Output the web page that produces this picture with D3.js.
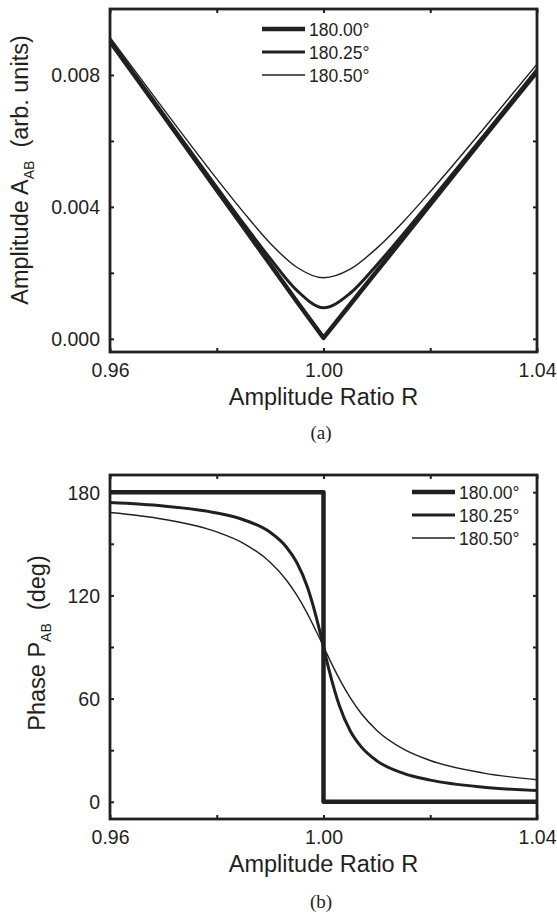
<!DOCTYPE html>
<html>
<head>
<meta charset="utf-8">
<script src="https://cdn.jsdelivr.net/npm/d3@7"></script>
<style>
  body { margin: 0; background: #fff; }
  svg text { font-family: "Liberation Sans", Arial, sans-serif; fill: #231f20; }
</style>
</head>
<body>
<div id="chart"></div>
<script>
// Data
const seriesNames = ["180.00\u00b0", "180.25\u00b0", "180.50\u00b0"];

const ampR = [0.96, 0.97, 0.98, 0.985, 0.99, 0.995, 1.00, 1.005, 1.01, 1.015, 1.02, 1.03, 1.04];
const amp18000 = [0.00902, 0.00677, 0.00451, 0.00339, 0.00226, 0.00113, 0.00003, 0.00104, 0.00205, 0.00306, 0.00408, 0.0061, 0.0081];
const amp18025 = [0.00905, 0.00682, 0.0046, 0.0035, 0.00244, 0.00147, 0.00094, 0.00138, 0.00224, 0.00319, 0.00417, 0.00616, 0.00817];
const amp18050 = [0.00914, 0.00697, 0.00485, 0.00384, 0.0029, 0.00217, 0.00185, 0.00211, 0.00275, 0.00356, 0.00446, 0.00637, 0.00833];

const phaseStepR = [0.96, 1.00, 1.00, 1.04];
const phase18000 = [180, 180, 0, 0];
const phaseR = [0.96, 0.97, 0.98, 0.985, 0.99, 0.993, 0.995, 0.997, 0.999, 1.00, 1.001, 1.003, 1.005, 1.007, 1.01, 1.015, 1.02, 1.03, 1.04];
const phase18025 = [174.0, 172.0, 167.9, 164.0, 156.7, 148.3, 139.1, 124.7, 103.0, 90.1, 77.2, 55.7, 41.3, 32.2, 23.8, 16.5, 12.6, 8.5, 6.5];
const phase18050 = [168.2, 164.3, 156.9, 150.3, 139.3, 129.1, 120.1, 109.3, 96.8, 90.3, 83.7, 71.3, 60.5, 51.6, 41.5, 30.6, 24.0, 16.7, 12.8];

const xTicks = [0.96, 0.98, 1.00, 1.02, 1.04];
const xTickLabels = ["0.96", "", "1.00", "", "1.04"];
const ampTicks = [0, 0.002, 0.004, 0.006, 0.008];
const ampTickLabels = ["0.000", "", "0.004", "", "0.008"];
const phaseTicks = [0, 30, 60, 90, 120, 150, 180];
const phaseTickLabels = ["0", "", "60", "", "120", "", "180"];

const width = 557, height = 915;
const lineWidths = [4.5, 3, 1.4];
const ink = "#231f20";

const svg = d3.select("#chart").append("svg")
    .attr("width", width)
    .attr("height", height);

const zip = (xs, ys) => xs.map((x, i) => [x, ys[i]]);

function panel(cfg) {
    const x = d3.scaleLinear().domain([0.96, 1.04]).range([110, 537]);
    const y = d3.scaleLinear().domain(cfg.yDomain).range([cfg.bottom, cfg.top]);
    const g = svg.append("g");

    g.append("clipPath").attr("id", cfg.id)
        .append("rect")
        .attr("x", 110).attr("y", cfg.top)
        .attr("width", 427).attr("height", cfg.bottom - cfg.top);

    // curves
    const lines = g.append("g").attr("clip-path", `url(#${cfg.id})`);
    cfg.series.forEach((s, i) => {
        const line = d3.line()
            .x(d => x(d[0])).y(d => y(d[1]))
            .curve(s.curve);
        lines.append("path")
            .datum(s.data)
            .attr("d", line)
            .attr("fill", "none")
            .attr("stroke", ink)
            .attr("stroke-width", lineWidths[i])
            .attr("stroke-linejoin", "round");
    });

    // axes, ticks pointing inward
    const xFmt = (d, i) => xTickLabels[i];
    const yFmt = (d, i) => cfg.yLabels[i];
    const bottomAx = g.append("g").attr("transform", `translate(0,${cfg.bottom})`)
        .call(d3.axisBottom(x).tickValues(xTicks).tickFormat(xFmt).tickSize(-4).tickPadding(0));
    const topAx = g.append("g").attr("transform", `translate(0,${cfg.top})`)
        .call(d3.axisTop(x).tickValues(xTicks).tickFormat("").tickSize(-4));
    const leftAx = g.append("g").attr("transform", "translate(110,0)")
        .call(d3.axisLeft(y).tickValues(cfg.yTicks).tickFormat(yFmt).tickSize(-4).tickPadding(0));
    const rightAx = g.append("g").attr("transform", "translate(537,0)")
        .call(d3.axisRight(y).tickValues(cfg.yTicks).tickFormat("").tickSize(-4));

    [bottomAx, topAx, leftAx, rightAx].forEach(a => {
        a.select(".domain").remove();
        a.selectAll(".tick line").attr("stroke", ink).attr("stroke-width", 2);
    });
    bottomAx.selectAll("text")
        .attr("y", 25).attr("dy", 0)
        .style("font-size", "19.5px").attr("fill", ink);
    leftAx.selectAll("text")
        .attr("x", -10).attr("dy", "0.36em")
        .style("font-size", "19.5px").attr("fill", ink);

    // frame
    g.append("rect")
        .attr("x", 110).attr("y", cfg.top)
        .attr("width", 427).attr("height", cfg.bottom - cfg.top)
        .attr("fill", "none").attr("stroke", ink).attr("stroke-width", 2.8);

    // axis titles
    g.append("text")
        .attr("x", 323.5).attr("y", cfg.bottom + 53)
        .attr("text-anchor", "middle")
        .style("font-size", "23.5px")
        .text("Amplitude Ratio R");

    const yt = g.append("text")
        .attr("transform", `translate(${cfg.yTitleX},${cfg.yTitleY}) rotate(-90)`)
        .attr("text-anchor", "middle")
        .style("font-size", "23.5px")
        .style("white-space", "pre");
    yt.append("tspan").text(cfg.yTitle[0]);
    yt.append("tspan").attr("dy", 6).style("font-size", "14px").text("AB");
    yt.append("tspan").attr("dy", -6).text("  " + cfg.yTitle[1]);

    // legend
    const leg = g.append("g");
    seriesNames.forEach((name, i) => {
        const ly = cfg.legendY + i * 23;
        leg.append("line")
            .attr("x1", cfg.legendX).attr("x2", cfg.legendX + 43)
            .attr("y1", ly).attr("y2", ly)
            .attr("stroke", ink).attr("stroke-width", lineWidths[i]);
        leg.append("text")
            .attr("x", cfg.legendX + 47).attr("y", ly + 6.5)
            .style("font-size", "17.5px")
            .text(name);
    });

    // panel caption
    g.append("text")
        .attr("x", 321).attr("y", cfg.captionY)
        .attr("text-anchor", "middle")
        .style("font-family", "'Liberation Serif', 'Times New Roman', serif")
        .style("font-size", "19px")
        .text(cfg.caption);
}

panel({
    id: "clipA",
    top: 9, bottom: 352,
    yDomain: [-0.0004, 0.01],
    yTicks: ampTicks, yLabels: ampTickLabels,
    yTitle: ["Amplitude A", "(arb. units)"],
    yTitleX: 28, yTitleY: 170,
    legendX: 262, legendY: 29,
    caption: "(a)", captionY: 439,
    series: [
        { data: zip(ampR, amp18000), curve: d3.curveLinear },
        { data: zip(ampR, amp18025), curve: d3.curveMonotoneX },
        { data: zip(ampR, amp18050), curve: d3.curveMonotoneX }
    ]
});

panel({
    id: "clipB",
    top: 475, bottom: 819,
    yDomain: [-10, 190],
    yTicks: phaseTicks, yLabels: phaseTickLabels,
    yTitle: ["Phase P", "(deg)"],
    yTitleX: 45, yTitleY: 643,
    legendX: 412, legendY: 492,
    caption: "(b)", captionY: 908,
    series: [
        { data: zip(phaseStepR, phase18000), curve: d3.curveLinear },
        { data: zip(phaseR, phase18025), curve: d3.curveMonotoneX },
        { data: zip(phaseR, phase18050), curve: d3.curveMonotoneX }
    ]
});
</script>
</body>
</html>
